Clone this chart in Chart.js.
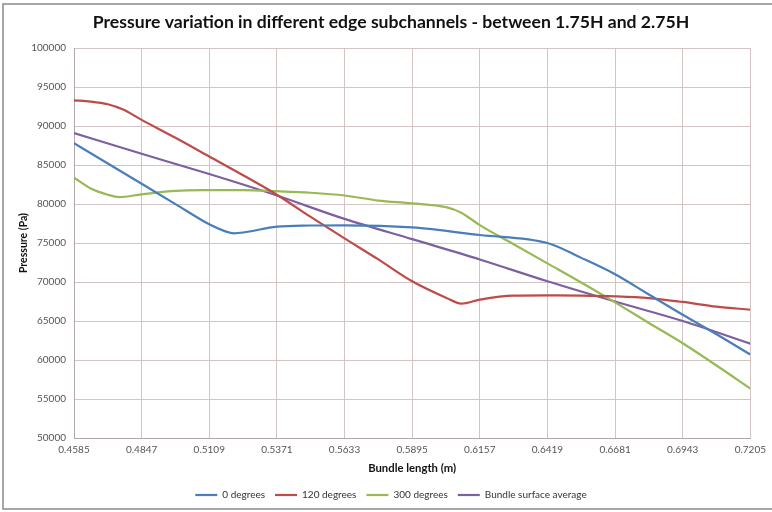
<!DOCTYPE html>
<html>
<head>
<meta charset="utf-8">
<script src="https://cdn.jsdelivr.net/npm/chart.js@4"></script>
<style>
  html, body { margin: 0; padding: 0; background: #fff; }
  #wrap { width: 772px; height: 512px; position: relative; }
</style>
</head>
<body>
<div id="wrap"><canvas id="c" width="772" height="512"></canvas></div>
<script>
// Bundle length positions (m)
const xTicks = [0.4585, 0.4847, 0.5109, 0.5371, 0.5633, 0.5895, 0.6157, 0.6419, 0.6681, 0.6943, 0.7205];

// 0 degrees subchannel
const x0 = [0.4585, 0.4716, 0.4847, 0.4978, 0.5109, 0.5171, 0.5205, 0.524, 0.5371, 0.5502, 0.5633, 0.5895, 0.6157, 0.6419, 0.655, 0.6681, 0.6812, 0.6943, 0.7074, 0.7205];
const p0 = [87800, 85200, 82600, 80000, 77400, 76500, 76250, 76350, 77100, 77250, 77280, 77000, 76030, 75000, 73100, 71000, 68400, 65800, 63300, 60700];

// 120 degrees subchannel
const x120 = [0.4585, 0.4650, 0.4716, 0.4773, 0.4847, 0.4978, 0.5109, 0.524, 0.5371, 0.5502, 0.5633, 0.5764, 0.5895, 0.6026, 0.6085, 0.6157, 0.6288, 0.6419, 0.655, 0.6681, 0.6812, 0.6943, 0.7074, 0.7205];
const p120 = [93300, 93150, 92800, 92150, 90800, 88500, 86100, 83700, 81200, 78350, 75600, 72900, 70100, 68000, 67230, 67740, 68250, 68280, 68260, 68170, 67950, 67450, 66850, 66450];

// 300 degrees subchannel
const x300 = [0.4585, 0.4650, 0.4716, 0.4760, 0.4847, 0.4978, 0.5109, 0.524, 0.5371, 0.5502, 0.5633, 0.5764, 0.5895, 0.6026, 0.6085, 0.6157, 0.6288, 0.6419, 0.655, 0.6681, 0.6812, 0.6943, 0.7074, 0.7205];
const p300 = [83400, 82000, 81200, 80900, 81250, 81700, 81780, 81790, 81650, 81450, 81100, 80450, 80100, 79600, 78900, 77300, 74850, 72400, 69950, 67400, 64750, 62150, 59300, 56350];

// Bundle surface average
const xAvg = [0.4585, 0.4847, 0.5109, 0.5371, 0.5633, 0.5895, 0.6157, 0.6419, 0.6681, 0.6943, 0.7205];
const pAvg = [89100, 86450, 83850, 81100, 78100, 75500, 72900, 70100, 67500, 65000, 62100];

const seriesNames = ['0 degrees', '120 degrees', '300 degrees', 'Bundle surface average'];
const seriesColors = ['#4a7ebb', '#be4b48', '#98b954', '#7d60a0'];

const pts = (xs, ys) => xs.map((x, i) => ({ x: x, y: ys[i] }));

// Outer frame around the whole chart
const framePlugin = {
  id: 'frame',
  beforeDraw(chart) {
    const ctx = chart.ctx;
    ctx.save();
    ctx.fillStyle = '#ffffff';
    ctx.fillRect(0, 0, chart.width, chart.height);
    ctx.strokeStyle = '#8a8a8a';
    ctx.lineWidth = 1.5;
    ctx.strokeRect(3, 4, chart.width + 10, 505);
    ctx.restore();
  }
};

const fontFam = 'Lato, "Open Sans", sans-serif';

new Chart(document.getElementById('c'), {
  type: 'line',
  data: {
    datasets: [
      { label: seriesNames[0], data: pts(x0, p0) },
      { label: seriesNames[1], data: pts(x120, p120) },
      { label: seriesNames[2], data: pts(x300, p300) },
      { label: seriesNames[3], data: pts(xAvg, pAvg) }
    ].map((d, i) => Object.assign(d, {
      borderColor: seriesColors[i],
      backgroundColor: seriesColors[i],
      borderWidth: 2.2,
      pointRadius: 0,
      fill: false,
      cubicInterpolationMode: 'monotone'
    }))
  },
  options: {
    responsive: false,
    animation: false,
    layout: { padding: { left: 30, right: 20, top: 1, bottom: 2 } },
    plugins: {
      title: {
        display: true,
        text: 'Pressure variation in different edge subchannels - between 1.75H and 2.75H',
        color: '#111',
        font: { family: fontFam, size: 17.6, weight: 'bold' },
        padding: { top: 11, bottom: 15 }
      },
      legend: {
        position: 'bottom',
        labels: {
          usePointStyle: true,
          pointStyle: 'line',
          pointStyleWidth: 22,
          color: '#333',
          font: { family: fontFam, size: 10 },
          padding: 10
        }
      },
      tooltip: { enabled: false }
    },
    scales: {
      x: {
        type: 'linear',
        min: xTicks[0],
        max: xTicks[xTicks.length - 1],
        afterBuildTicks(scale) { scale.ticks = xTicks.map(v => ({ value: v })); },
        afterFit(scale) { scale.height = 42; },
        ticks: {
          autoSkip: false,
          maxRotation: 0,
          color: '#555',
          padding: 6,
          font: { family: fontFam, size: 10 },
          callback: v => v.toFixed(4)
        },
        grid: { color: '#d4c5c5', lineWidth: 1, drawTicks: false },
        border: { color: '#b0a8a8' },
        title: {
          display: true,
          text: 'Bundle length (m)',
          color: '#111',
          font: { family: fontFam, size: 11.3, weight: 'bold' },
          padding: { top: 4, bottom: 5 }
        }
      },
      y: {
        min: 50000,
        max: 100000,
        afterFit(scale) { scale.width = 44; },
        ticks: {
          stepSize: 5000,
          color: '#555',
          padding: 8,
          font: { family: fontFam, size: 10 },
          callback: v => String(v)
        },
        grid: { color: '#d4c5c5', lineWidth: 1, drawTicks: false },
        border: { color: '#b0a8a8' },
        title: {
          display: true,
          text: 'Pressure (Pa)',
          color: '#111',
          font: { family: fontFam, size: 10.5, weight: 'bold' },
          padding: { top: -13, bottom: 4 }
        }
      }
    }
  },
  plugins: [framePlugin]
});
</script>
</body>
</html>
